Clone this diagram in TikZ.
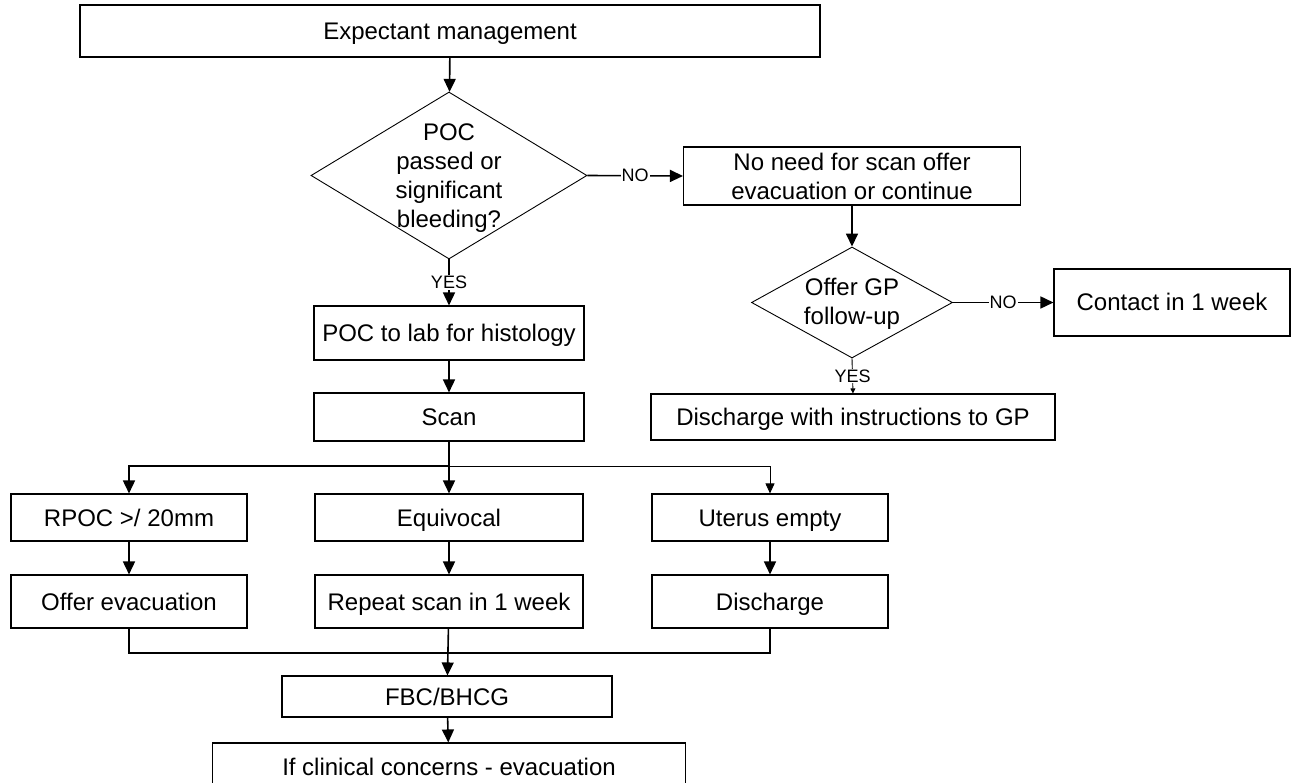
\documentclass[tikz,border=0pt]{standalone}
\usepackage{fontspec}
\setmainfont{Liberation Sans}
\usetikzlibrary{shapes.geometric,arrows.meta,positioning,calc}

\begin{document}
\begin{tikzpicture}[x=1pt, y=-1pt,
    panel/.style={rectangle, draw, line width=1.1pt, align=center, inner sep=2pt,
        font=\fontsize{24}{29}\selectfont},
    box/.style={panel, text height=19pt, text depth=2pt},
    decision/.style={diamond, draw, line width=0.9pt, inner sep=0pt},
    dtext/.style={align=center, font=\fontsize{24}{29}\selectfont},
    arrow/.style={-{Triangle[length=13pt,width=12pt]}, line width=1.6pt},
    thinarrow/.style={-{Triangle[length=10pt,width=9pt]}, line width=0.8pt},
    tinyarrow/.style={-{Triangle[length=5pt,width=5pt]}, line width=0.9pt},
    link/.style={line width=1.6pt},
    tag/.style={fill=white, inner sep=1pt, font=\fontsize{18}{20}\selectfont}
]
    \useasboundingbox (0,0) rectangle (1296,783);
    \clip (0,0) rectangle (1296,783);

    % left column
    \node[box, minimum width=740pt, minimum height=52pt] (expect) at (450,31) {Expectant management};
    \node[decision, minimum width=276pt, minimum height=167pt,
        label={[dtext, yshift=-3pt]center:POC\\passed or\\significant\\bleeding?}] (poc) at (449,175.5) {};
    \node[box, minimum width=270pt, minimum height=54pt] (histo) at (449,333) {POC to lab for histology};
    \node[box, minimum width=270pt, minimum height=48pt] (scan) at (449,417) {Scan};

    % right column
    \node[panel, minimum width=337pt, minimum height=58pt] (noscan) at (852,176) {No need for scan offer\\evacuation or continue};
    \node[decision, minimum width=201pt, minimum height=111pt,
        label={[dtext, yshift=-1pt]center:Offer GP\\follow-up}] (gp) at (852,302.5) {};
    \node[box, minimum width=236pt, minimum height=67pt] (contact) at (1172,302.5) {Contact in 1 week};
    \node[box, minimum width=404pt, minimum height=46pt] (gpdis) at (853,417) {Discharge with instructions to GP};

    % scan results
    \node[box, minimum width=236pt, minimum height=47pt] (rpoc) at (129,517.5) {RPOC >/ 20mm};
    \node[box, minimum width=268pt, minimum height=47pt] (equiv) at (449,517.5) {Equivocal};
    \node[box, minimum width=236pt, minimum height=47pt] (empty) at (770,517.5) {Uterus empty};
    \node[box, minimum width=236pt, minimum height=53pt] (offerev) at (129,601.5) {Offer evacuation};
    \node[box, minimum width=268pt, minimum height=53pt] (repeat) at (449,601.5) {Repeat scan in 1 week};
    \node[box, minimum width=236pt, minimum height=53pt] (dis) at (770,601.5) {Discharge};
    \node[box, minimum width=330pt, minimum height=41pt] (fbc) at (447,696.5) {FBC/BHCG};
    \node[box, minimum width=473pt, minimum height=47pt] (concern) at (449,766.5) {If clinical concerns - evacuation};

    \coordinate (split) at (449,466);
    \coordinate (merge) at (449,653);

    \draw[arrow] (expect) -- (poc);
    \draw[arrow] (poc.east) -- node[tag]{NO} (noscan.west);
    \draw[arrow] (poc.south) -- node[tag]{YES} (histo.north);
    \draw[arrow] (histo) -- (scan);
    \draw[arrow] (noscan) -- (gp);
    \draw[arrow] (gp.east) -- node[tag]{NO} (contact.west);
    \draw[tinyarrow] (gp.south) -- node[tag]{YES} (gpdis.north);

    \draw[arrow] (scan) -- (equiv);
    \draw[arrow] (split) -| (rpoc.north);
    \draw[thinarrow] (split) -| (empty.north);
    \draw[arrow] (rpoc) -- (offerev);
    \draw[arrow] (equiv) -- (repeat);
    \draw[arrow] (empty) -- (dis);
    \draw[link] (offerev.south) |- (merge) -| (dis.south);
    \draw[arrow] (repeat) -- (fbc);
    \draw[arrow] (fbc) -- (concern);
\end{tikzpicture}
\end{document}
